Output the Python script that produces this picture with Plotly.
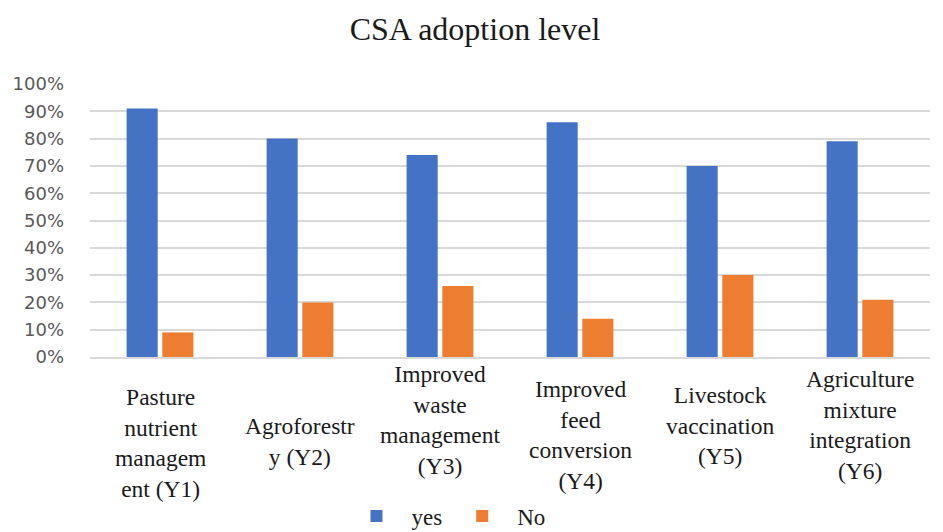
import plotly.graph_objects as go

categories = ["Y1", "Y2", "Y3", "Y4", "Y5", "Y6"]
category_labels = [
    "Pasture<br>nutrient<br>managem<br>ent (Y1)",
    "Agroforestr<br>y (Y2)",
    "Improved<br>waste<br>management<br>(Y3)",
    "Improved<br>feed<br>conversion<br>(Y4)",
    "Livestock<br>vaccination<br>(Y5)",
    "Agriculture<br>mixture<br>integration<br>(Y6)",
]
yes_values = [0.91, 0.80, 0.74, 0.86, 0.70, 0.79]
no_values = [0.09, 0.20, 0.26, 0.14, 0.30, 0.21]
y_ticks = [0, 0.1, 0.2, 0.3, 0.4, 0.5, 0.6, 0.7, 0.8, 0.9, 1.0]

# vertical centre of each category label, in pixels from the top
label_centres_px = [443, 441, 420, 435, 425, 425]

W, H = 943, 532
top, bottom = 84, 357
plot_h = bottom - top

fig = go.Figure()
fig.add_trace(go.Bar(x=categories, y=yes_values, name="yes",
                     marker=dict(color="#4472C4", line=dict(width=0))))
fig.add_trace(go.Bar(x=categories, y=no_values, name="No",
                     marker=dict(color="#ED7D31", line=dict(width=0))))

annotations = []
for cat, lab, cpx in zip(categories, category_labels, label_centres_px):
    annotations.append(dict(
        x=cat, xref="x", y=(bottom - cpx) / plot_h, yref="paper",
        text=lab, showarrow=False, xanchor="center", yanchor="middle",
        font=dict(family="Liberation Serif", size=23.5, color="#1a1a1a"),
    ))

fig.update_layout(
    width=W, height=H,
    margin=dict(l=90, r=13, t=top, b=H - bottom, autoexpand=False),
    paper_bgcolor="white", plot_bgcolor="white",
    title=dict(text="CSA adoption level", x=475 / W, xanchor="center",
               xref="container", y=1 - 29 / H, yanchor="middle",
               font=dict(family="Liberation Serif", size=32, color="#1a1a1a")),
    barmode="group", bargap=0.49, bargroupgap=0.13,
    legend=dict(orientation="h", x=446 / W, xanchor="center", xref="container",
                y=1 - 516 / H, yanchor="middle", yref="container",
                font=dict(family="Liberation Serif", size=23, color="#1a1a1a"),
                itemwidth=60, traceorder="normal"),
    annotations=annotations,
    showlegend=True,
)
fig.update_xaxes(showticklabels=False, showgrid=False, showline=True,
                 linecolor="#D9D9D9", linewidth=1.5, ticks="")
fig.update_yaxes(range=[0, 1.0], tickvals=y_ticks, tickformat=".0%",
                 showgrid=True, gridcolor="#D9D9D9", gridwidth=1.5,
                 zeroline=False, ticks="", ticklabelstandoff=25,
                 tickfont=dict(family="DejaVu Sans", size=18, color="#595959"))

fig.write_html("out.html",
               config={"displayModeBar": False},
               post_script="document.body.style.margin='0';"
                           "document.body.style.overflow='hidden';")
